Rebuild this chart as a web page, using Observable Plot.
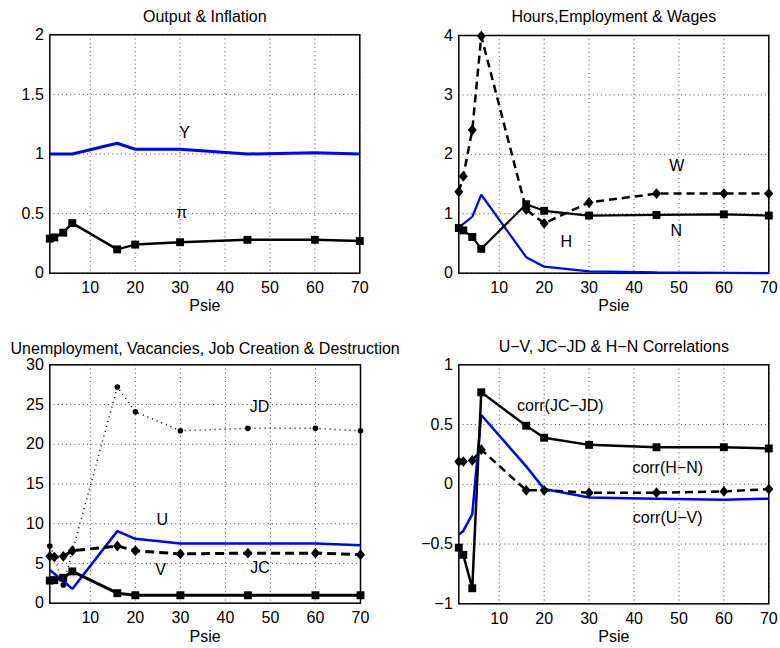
<!DOCTYPE html>
<html>
<head>
<meta charset="utf-8">
<script src="https://cdn.jsdelivr.net/npm/d3@7"></script>
<script src="https://cdn.jsdelivr.net/npm/@observablehq/plot@0.6"></script>
<style>
  html, body { margin: 0; padding: 0; background: #fff; }
  #wrap { position: relative; width: 780px; height: 648px; overflow: hidden; background: #fff; }
  .panel { position: absolute; width: 390px; height: 324px; }
  .panel svg { overflow: visible; }
  #p3 { z-index: 2; }
</style>
</head>
<body>
<div id="wrap">
  <div class="panel" id="p1" style="left:0;top:0"></div>
  <div class="panel" id="p2" style="left:390px;top:0"></div>
  <div class="panel" id="p3" style="left:0;top:324px"></div>
  <div class="panel" id="p4" style="left:390px;top:324px"></div>
</div>
<script>
// ---- data ----
const psie = [1, 2, 4, 6, 16, 20, 30, 45, 60, 70];
const xTicks = [10, 20, 30, 40, 50, 60, 70];

// Output & Inflation
const outputY = [1.0, 1.0, 1.0, 1.0, 1.09, 1.04, 1.04, 1.0, 1.01, 1.0];
const inflation = [0.29, 0.30, 0.34, 0.42, 0.20, 0.24, 0.26, 0.28, 0.28, 0.27];
const yTicks1 = [0, 0.5, 1, 1.5, 2];

// Hours, Employment & Wages
const wages = [1.37, 1.63, 2.41, 3.99, 1.07, 0.84, 1.19, 1.34, 1.34, 1.34];
const employment = [0.76, 0.72, 0.61, 0.41, 1.16, 1.05, 0.97, 0.98, 0.99, 0.97];
const hours = [0.76, 0.83, 0.95, 1.32, 0.27, 0.11, 0.03, 0.015, 0.005, 0.0];
const yTicks2 = [0, 1, 2, 3, 4];

// Unemployment, Vacancies, JC & JD
const jobDestruction = [7.2, 5.9, 2.3, 6.5, 27.2, 24.1, 21.7, 22.0, 22.0, 21.7];
const unemployment = [4.2, 3.7, 2.8, 1.8, 9.07, 8.1, 7.5, 7.5, 7.5, 7.3];
const jobCreation = [5.9, 5.8, 5.9, 6.6, 7.2, 6.6, 6.2, 6.3, 6.3, 6.1];
const vacancies = [2.85, 2.9, 3.2, 4.0, 1.26, 1.0, 1.0, 1.0, 1.0, 1.0];
const yTicks3 = [0, 5, 10, 15, 20, 25, 30];

// Correlations
const corrJCJD = [-0.53, -0.59, -0.87, 0.77, 0.49, 0.39, 0.33, 0.31, 0.31, 0.30];
const corrHN = [0.19, 0.19, 0.20, 0.29, -0.05, -0.05, -0.07, -0.07, -0.06, -0.04];
const corrUV = [-0.42, -0.39, -0.25, 0.58, 0.15, -0.04, -0.11, -0.12, -0.13, -0.12];
const yTicks4 = [-1, -0.5, 0, 0.5, 1];

// annotation labels (data units)
const labels1 = [{t: "Y", x: 31, y: 1.18}, {t: "π", x: 30.4, y: 0.51}];
const labels2 = [{t: "W", x: 49.5, y: 1.80}, {t: "H", x: 24.9, y: 0.52}, {t: "N", x: 49.4, y: 0.72}];
const labels3 = [{t: "JD", x: 47.6, y: 24.7}, {t: "U", x: 26, y: 10.5}, {t: "V", x: 25.6, y: 4.2}, {t: "JC", x: 47.7, y: 4.5}];
const labels4 = [{t: "corr(JC−JD)", x: 23.6, y: 0.66}, {t: "corr(H−N)", x: 47.5, y: 0.135}, {t: "corr(U−V)", x: 47.5, y: -0.28}];

// ---- helpers ----
const table = arr => psie.map((x, i) => ({x, v: arr[i]}));
const fmt = d => (d < 0 ? "−" + Math.abs(d) : String(d));
const FONT = "'Liberation Sans', Arial, Helvetica, sans-serif";
const FS = 16;
const BLUE = "#0000ff";

const squareSym = {draw(c, size) { const r = Math.sqrt(size / Math.PI) * 0.88; c.moveTo(-r, -r); c.lineTo(r, -r); c.lineTo(r, r); c.lineTo(-r, r); c.closePath(); }};
const diamondSym = {draw(c, size) { const r = Math.sqrt(size / Math.PI); const w = r, h = r * 1.2; c.moveTo(0, -h); c.lineTo(w, 0); c.lineTo(0, h); c.lineTo(-w, 0); c.closePath(); }};

function series(arr, opts) {
  const d = table(arr);
  const marks = [Plot.lineY(d, {x: "x", y: "v", stroke: opts.stroke || "black", strokeWidth: opts.width || 2, strokeDasharray: opts.dash, strokeLinejoin: "miter", strokeLinecap: "butt"})];
  if (opts.symbol) marks.push(Plot.dot(d, {x: "x", y: "v", symbol: opts.symbol, r: opts.r || 4.5, fill: "black", stroke: "none"}));
  return marks;
}

function panel(el, cfg) {
  const chart = Plot.plot({
    width: 390, height: 324,
    marginLeft: cfg.ml, marginRight: cfg.mr, marginTop: cfg.mt, marginBottom: cfg.mb,
    style: {fontFamily: FONT, fontSize: FS + "px", background: "transparent", overflow: "visible", color: "black"},
    x: {domain: [1, 70]},
    y: {domain: cfg.domain},
    marks: [
      Plot.gridX(xTicks, {stroke: "#000", strokeOpacity: 0.7, strokeDasharray: "1,3.2"}),
      Plot.gridY(cfg.yTicks, {stroke: "#000", strokeOpacity: 0.7, strokeDasharray: "1,3.2"}),
      Plot.frame({stroke: "black", strokeWidth: 1.5}),
      Plot.axisX(xTicks, {tickSize: 0, tickPadding: 8.5, fontSize: FS, label: null, fill: "black"}),
      Plot.axisY(cfg.yTicks, {tickSize: 0, tickPadding: 6, fontSize: FS, label: null, tickFormat: fmt, fill: "black"}),
      ...cfg.marks,
      Plot.text(cfg.labels, {x: "x", y: "y", text: "t", fontSize: FS, fill: "black"}),
      Plot.text([cfg.title], {text: d => d, frameAnchor: "top", dy: cfg.titleDy, lineAnchor: "middle", fontSize: FS, fill: "black"}),
      Plot.text(["Psie"], {text: d => d, frameAnchor: "bottom", dy: cfg.labelDy, lineAnchor: "middle", fontSize: FS, fill: "black"})
    ]
  });
  document.getElementById(el).appendChild(chart);
}

panel("p1", {
  ml: 49.3, mr: 30.7, mt: 34.3, mb: 51.3, domain: [0, 2], yTicks: yTicks1,
  title: "Output & Inflation", titleDy: -17.6, labelDy: 32.5, labels: labels1,
  marks: [
    ...series(outputY, {stroke: BLUE, width: 3}),
    ...series(inflation, {width: 2.5, symbol: squareSym, r: 4.5})
  ]
});

panel("p2", {
  ml: 68.3, mr: 11.7, mt: 35, mb: 51.3, domain: [0, 4], yTicks: yTicks2,
  title: "Hours,Employment & Wages", titleDy: -18.3, labelDy: 32.5, labels: labels2,
  marks: [
    ...series(hours, {stroke: BLUE, width: 2.2}),
    ...series(employment, {width: 2.2, symbol: squareSym, r: 4.5}),
    ...series(wages, {width: 2.5, dash: "8,5", symbol: diamondSym, r: 4.5})
  ]
});

panel("p3", {
  ml: 49.3, mr: 30, mt: 40.3, mb: 45.3, domain: [0, 30], yTicks: yTicks3,
  title: "Unemployment, Vacancies, Job Creation & Destruction", titleDy: -16.3, labelDy: 33.3, labels: labels3,
  marks: [
    ...series(jobDestruction, {width: 1.5, dash: "1,4", symbol: "circle", r: 2.8}),
    ...series(unemployment, {stroke: BLUE, width: 2.5}),
    ...series(jobCreation, {width: 3, dash: "9,5", symbol: diamondSym, r: 4.5}),
    ...series(vacancies, {width: 3, symbol: squareSym, r: 4.5})
  ]
});

panel("p4", {
  ml: 68.3, mr: 11.7, mt: 40.3, mb: 44.7, domain: [-1, 1], yTicks: yTicks4,
  title: "U−V, JC−JD & H−N Correlations", titleDy: -17.6, labelDy: 33.3, labels: labels4,
  marks: [
    ...series(corrUV, {stroke: BLUE, width: 2.5}),
    ...series(corrHN, {width: 2.5, dash: "8,5", symbol: diamondSym, r: 4.5}),
    ...series(corrJCJD, {width: 2.5, symbol: squareSym, r: 4.5})
  ]
});
</script>
</body>
</html>
